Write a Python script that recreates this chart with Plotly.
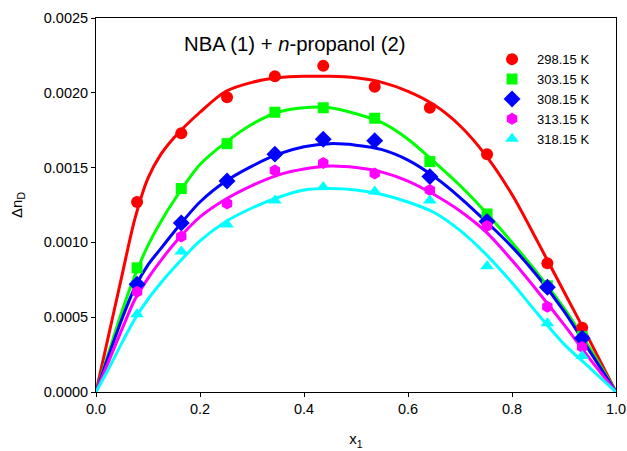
import plotly.graph_objects as go

# Experimental points
x_exp = [0.079, 0.164, 0.252, 0.344, 0.437, 0.536, 0.642, 0.752, 0.868, 0.935]
y_298 = [0.00127, 0.00173, 0.00197, 0.00211, 0.00218, 0.00204, 0.00190, 0.00159, 0.00086, 0.00043]
y_303 = [0.00083, 0.00136, 0.00166, 0.00187, 0.00190, 0.00183, 0.00154, 0.00119, 0.00071, 0.00037]
y_308 = [0.00072, 0.00113, 0.00141, 0.00159, 0.00169, 0.00168, 0.00144, 0.00114, 0.00070, 0.00036]
y_313 = [0.00067, 0.00104, 0.00126, 0.00148, 0.00153, 0.00146, 0.00135, 0.00111, 0.00057, 0.00030]
y_318 = [0.00052, 0.00094, 0.00112, 0.00128, 0.00137, 0.00134, 0.00128, 0.00084, 0.00046, 0.00024]

# Fitted curves
x_fit = [0, 0.025, 0.05, 0.075, 0.1, 0.125, 0.15, 0.2, 0.25, 0.3, 0.35, 0.4, 0.45, 0.5,
         0.55, 0.6, 0.65, 0.7, 0.75, 0.8, 0.85, 0.9, 0.95, 1.0]
f_298 = [0, 0.00039, 0.00078, 0.00116, 0.00143, 0.00159, 0.00170, 0.00187, 0.00201, 0.00207, 0.00210,
         0.00211, 0.00211, 0.00210, 0.00207, 0.00201, 0.00192, 0.00178, 0.00158, 0.00132, 0.00100,
         0.00067, 0.00034, 0]
f_303 = [0, 0.00027, 0.00054, 0.00078, 0.00098, 0.00114, 0.00128, 0.00152, 0.00167, 0.00179, 0.00187,
         0.00190, 0.00190, 0.00186, 0.00180, 0.00169, 0.00154, 0.00138, 0.00120, 0.00100, 0.00079,
         0.00056, 0.00029, 0]
f_308 = [0, 0.00025, 0.00049, 0.00070, 0.00085, 0.00096, 0.00107, 0.00127, 0.00141, 0.00151, 0.00159,
         0.00164, 0.00166, 0.00165, 0.00162, 0.00155, 0.00144, 0.00130, 0.00114, 0.00097, 0.00077,
         0.00054, 0.00027, 0]
f_313 = [0, 0.00021, 0.00042, 0.00062, 0.00076, 0.00088, 0.00099, 0.00117, 0.00129, 0.00138, 0.00145,
         0.00149, 0.00151, 0.00150, 0.00147, 0.00141, 0.00132, 0.00121, 0.00107, 0.00088, 0.00067,
         0.00045, 0.00022, 0]
f_318 = [0, 0.00016, 0.00033, 0.00049, 0.00062, 0.00073, 0.00083, 0.00101, 0.00114, 0.00123, 0.00130,
         0.00135, 0.00136, 0.00135, 0.00132, 0.00127, 0.00120, 0.00108, 0.00092, 0.00073, 0.00052,
         0.00032, 0.00016, 0]

labels = ["298.15 K", "303.15 K", "308.15 K", "313.15 K", "318.15 K"]
colors = ["#FF0000", "#00FF00", "#0000FF", "#FF00FF", "#00FFFF"]
symbols = ["circle", "square", "diamond", "hexagon", "triangle-up"]
sizes = [12, 11, 13, 12, 12]
exp_sets = [y_298, y_303, y_308, y_313, y_318]
fit_sets = [f_298, f_303, f_308, f_313, f_318]

fig = go.Figure()
for lab, c, fy in zip(labels, colors, fit_sets):
    fig.add_trace(go.Scatter(x=x_fit, y=fy, mode="lines",
                             line=dict(color=c, width=3, shape="spline", smoothing=0.9),
                             showlegend=False, legendgroup=lab, hoverinfo="skip"))
for lab, c, s, sz, ey in zip(labels, colors, symbols, sizes, exp_sets):
    fig.add_trace(go.Scatter(x=x_exp, y=ey, mode="markers", name=lab, legendgroup=lab,
                             marker=dict(color=c, symbol=s, size=sz, line=dict(width=0))))

fig.add_annotation(text="NBA (1) + <i>n</i>-propanol (2)", xref="paper", yref="paper",
                   x=0.382, y=0.93, xanchor="center", yanchor="middle", showarrow=False,
                   font=dict(size=20.3, color="black", family="Arial"))

fig.update_layout(
    width=627, height=451,
    margin=dict(l=96, r=11, t=18, b=59, autoexpand=False),
    paper_bgcolor="white", plot_bgcolor="white",
    font=dict(family="Arial", color="black", size=14.5),
    legend=dict(x=0.752, y=0.93, xanchor="left", yanchor="top", bgcolor="rgba(0,0,0,0)",
                font=dict(size=13), tracegroupgap=0, itemwidth=40),
    showlegend=True,
)
fig.update_xaxes(range=[0, 1.0], tickvals=[0, 0.2, 0.4, 0.6, 0.8, 1.0], tickformat=".1f",
                 showline=True, linecolor="black", linewidth=1, mirror=True, automargin=False,
                 ticks="outside", ticklen=4, tickcolor="black", showgrid=False, zeroline=False,
                 title=dict(text="x<sub>1</sub>", font=dict(size=15), standoff=17))
fig.update_yaxes(range=[0, 0.0025], tickvals=[0, 0.0005, 0.0010, 0.0015, 0.0020, 0.0025], tickformat=".4f",
                 showline=True, linecolor="black", linewidth=1, mirror=True, automargin=False,
                 ticks="outside", ticklen=4, tickcolor="black", showgrid=False, zeroline=False,
                 title=dict(text="Δn<sub>D</sub>", font=dict(size=15), standoff=17))

fig.write_html("out.html", config={"displayModeBar": False},
               post_script="document.body.style.margin='0px';")
